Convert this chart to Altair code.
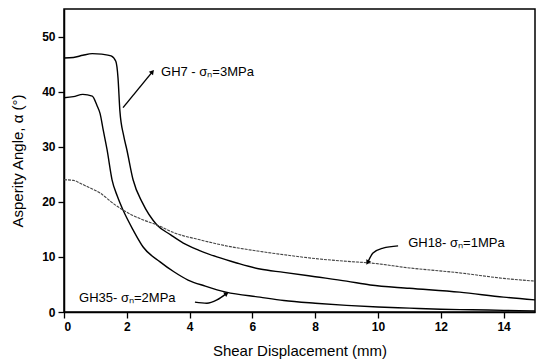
import altair as alt
import pandas as pd

# ---- data ----
gh7_x = [0, 0.3, 0.6, 0.9, 1.2, 1.5, 1.65, 1.72, 1.78, 1.9, 2.0, 2.2, 2.5, 2.96, 3.4, 3.8, 4.3, 4.87, 5.5, 6.24, 7, 8, 9, 9.75, 11, 12.6, 14, 15]
gh7_y = [46.1, 46.2, 46.6, 46.9, 46.8, 46.5, 45.5, 42.5, 36.5, 32, 29.5, 24, 19.8, 15.8, 14, 12.5, 11.2, 10, 8.9, 7.8, 7.2, 6.4, 5.6, 4.9, 4.3, 3.6, 2.7, 2.2]

gh35_x = [0, 0.3, 0.6, 0.9, 1.05, 1.15, 1.25, 1.37, 1.53, 1.7, 1.88, 2.2, 2.52, 3.06, 3.5, 3.95, 4.5, 5.16, 6.24, 7, 8, 9, 10, 11, 12, 13, 14, 15]
gh35_y = [38.9, 39.1, 39.5, 39.2, 37.5, 36, 33, 29.5, 24, 21, 18.5, 14.9, 11.8, 9.1, 7.3, 5.8, 4.7, 3.6, 2.7, 2.1, 1.6, 1.2, 0.9, 0.7, 0.5, 0.4, 0.3, 0.2]

gh18_x = [0, 0.3, 0.5, 0.8, 1.15, 1.5, 1.88, 2.4, 2.96, 3.5, 4.33, 5, 6.24, 7, 8, 9, 9.75, 11, 12.6, 14, 15]
gh18_y = [24, 23.9, 23.4, 22.6, 21.6, 20, 18.5, 17, 15.8, 14.4, 13.1, 12.2, 11, 10.4, 9.7, 9.2, 8.9, 8.0, 7.1, 6.1, 5.6]

series_names = ["GH7", "GH35", "GH18"]
label_texts = ["GH7 - σₙ=3MPa", "GH35- σₙ=2MPa", "GH18- σₙ=1MPa"]
label_x = [3.09, 0.48, 10.96]
label_y = [43.6, 2.5, 12.5]

# arrows (polyline points in data units) and arrow head angles
arrow_gh7_x = [1.88, 2.8]
arrow_gh7_y = [37.1, 43.5]
arrow_gh18_x = [10.64, 10.16, 9.84, 9.68]
arrow_gh18_y = [12.0, 11.6, 10.7, 9.1]
arrow_gh35_x = [4.17, 4.55, 4.87, 5.16]
arrow_gh35_y = [1.8, 1.6, 2.2, 3.3]
head_angles = [40, 209, 56]

x_ticks = list(range(0, 16))
y_ticks = list(range(0, 56, 5))

# ---- build tables ----
rows = []
for name, xs, ys in zip(series_names, [gh7_x, gh35_x, gh18_x], [gh7_y, gh35_y, gh18_y]):
    for i, (a, b) in enumerate(zip(xs, ys)):
        rows.append({"series": name, "x": a, "y": b, "order": i})
curves = pd.DataFrame(rows)

arows = []
heads = []
for name, xs, ys, ang in zip(series_names,
                             [arrow_gh7_x, arrow_gh35_x, arrow_gh18_x],
                             [arrow_gh7_y, arrow_gh35_y, arrow_gh18_y],
                             [head_angles[0], head_angles[2], head_angles[1]]):
    for i, (a, b) in enumerate(zip(xs, ys)):
        arows.append({"series": name, "x": a, "y": b, "order": i})
    heads.append({"series": name, "x": xs[-1], "y": ys[-1], "angle": ang})
arrows = pd.DataFrame(arows)
heads_df = pd.DataFrame(heads)

labels = pd.DataFrame({"text": label_texts, "x": label_x, "y": label_y})

FONT = "Liberation Sans"

x_scale = alt.Scale(domain=[0, 15], nice=False, zero=False)
y_scale = alt.Scale(domain=[0, 55], nice=False, zero=False)

x_axis = alt.Axis(
    values=x_ticks,
    labelExpr="datum.value % 2 == 0 ? datum.label : ''",
    tickSize={"condition": {"test": "datum.value % 2 != 0", "value": 3}, "value": 6},
    tickColor="black", domainColor="black", tickWidth=1.3, domainWidth=1.5,
    labelFont=FONT, labelFontSize=12, labelFontWeight="bold", labelColor="black",
    labelPadding=3, labelOverlap=False, grid=False,
    title="Shear Displacement (mm)", titleFont=FONT, titleFontSize=15,
    titleFontWeight="normal", titleColor="black", titlePadding=11,
)
y_axis = alt.Axis(
    values=y_ticks,
    labelExpr="datum.value % 10 == 0 ? datum.label : ''",
    tickSize={"condition": {"test": "datum.value % 10 != 0", "value": 3}, "value": 6},
    tickColor="black", domainColor="black", tickWidth=1.3, domainWidth=1.5,
    labelFont=FONT, labelFontSize=12, labelFontWeight="bold", labelColor="black",
    labelPadding=3, labelOverlap=False, grid=False,
    title="Asperity Angle, α (°)", titleFont=FONT, titleFontSize=15,
    titleFontWeight="normal", titleColor="black", titlePadding=16,
)

base = alt.Chart(curves)

solid = base.transform_filter(alt.datum.series != "GH18").mark_line(
    color="black", strokeWidth=1.4, interpolate="monotone"
).encode(
    x=alt.X("x:Q", scale=x_scale, axis=x_axis),
    y=alt.Y("y:Q", scale=y_scale, axis=y_axis),
    detail="series:N",
    order="order:Q",
)

dotted = base.transform_filter(alt.datum.series == "GH18").mark_line(
    color="#444444", strokeWidth=1.1, strokeDash=[3, 1], interpolate="monotone"
).encode(
    x="x:Q", y="y:Q", order="order:Q",
)

arrow_lines = alt.Chart(arrows).mark_line(
    color="black", strokeWidth=1.4, interpolate="monotone"
).encode(x="x:Q", y="y:Q", detail="series:N", order="order:Q")

arrow_heads = alt.Chart(heads_df).mark_point(
    shape="triangle", filled=True, color="black", size=30, opacity=1
).encode(x="x:Q", y="y:Q", angle=alt.Angle("angle:Q", scale=None))

text = alt.Chart(labels).mark_text(
    align="left", baseline="middle", font=FONT, fontSize=13, color="black"
).encode(x="x:Q", y="y:Q", text="text:N")

chart = alt.layer(solid, dotted, arrow_lines, arrow_heads, text).properties(
    width=471, height=303,
    padding={"left": 64, "top": 9, "right": 5, "bottom": 51},
    autosize=alt.AutoSizeParams(type="none"),
    background="white",
).configure_view(stroke="black", strokeWidth=1.5)

chart.save("out.html", embed_options={"renderer": "svg", "actions": False})
